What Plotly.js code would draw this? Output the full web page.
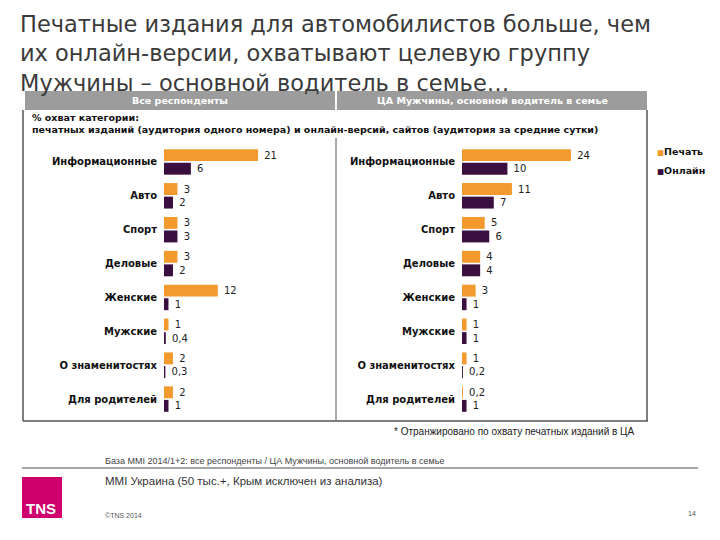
<!DOCTYPE html>
<html><head><meta charset="utf-8">
<script src="https://cdn.plot.ly/plotly-3.0.1.min.js"></script>
<style>html,body{margin:0;padding:0;background:#fff;overflow:hidden}#c{width:720px;height:540px}</style>
</head><body><div id="c"></div>
<script>
const categories = ["Информационные","Авто","Спорт","Деловые","Женские","Мужские","О знаменитостях","Для родителей"];
const allPrint  = [21, 3, 3, 3, 12, 1, 2, 2];
const allOnline = [6, 2, 3, 2, 1, 0.4, 0.3, 1];
const taPrint   = [24, 11, 5, 4, 3, 1, 1, 0.2];
const taOnline  = [10, 7, 6, 4, 1, 1, 0.2, 1];
const seriesNames = ["Печать","Онлайн"];
const colors = ["#F39A2E","#3B0E40"];
const titleLines = ["Печатные издания для автомобилистов больше, чем","их онлайн-версии, охватывают целевую группу","Мужчины – основной водитель в семье…"];

const W=720,H=540;
const px=x=>x/W, py=y=>1-y/H;
const FONT="DejaVu Sans, Verdana, sans-serif";
const NARROW="Liberation Sans Narrow, Arial Narrow, Liberation Sans, sans-serif";

function bar(x, name, color, xa, ya){
  return {type:"bar", orientation:"h", y:categories, x:x, name:name, xaxis:xa, yaxis:ya,
    marker:{color:color}, texttemplate:" %{x}", textposition:"outside", cliponaxis:false,
    constraintext:"none", textfont:{family:FONT,size:10,color:"#222"}, showlegend:false, hoverinfo:"x+y"};
}
const data=[
  bar(allPrint, seriesNames[0], colors[0], "x","y"),
  bar(allOnline, seriesNames[1], colors[1], "x","y"),
  bar(taPrint, seriesNames[0], colors[0], "x2","y2"),
  bar(taOnline, seriesNames[1], colors[1], "x2","y2")
];

const yTop=145, yBot=416;
const yax = {type:"category", range:[7.5,-0.5], domain:[py(yBot),py(yTop)], showgrid:false, zeroline:false, showline:false,
  ticks:"", ticklabelstandoff:6, tickfont:{family:FONT,size:10,color:"#111",weight:"bold"}, fixedrange:true};
const xax = {showgrid:false, zeroline:false, showline:false, showticklabels:false, ticks:"", fixedrange:true};

const shapes=[
  {type:"rect",xref:"paper",yref:"paper",x0:px(25),x1:px(335),y0:py(110),y1:py(91),fillcolor:"#9c9c9c",line:{width:0},layer:"below"},
  {type:"rect",xref:"paper",yref:"paper",x0:px(337),x1:px(647),y0:py(110),y1:py(91),fillcolor:"#9c9c9c",line:{width:0},layer:"below"},
  {type:"line",xref:"paper",yref:"paper",x0:px(23),x1:px(23),y0:py(110),y1:py(421),line:{color:"#555",width:1.5}},
  {type:"line",xref:"paper",yref:"paper",x0:px(23),x1:px(648),y0:py(421),y1:py(421),line:{color:"#555",width:1.5}},
  {type:"line",xref:"paper",yref:"paper",x0:px(647),x1:px(647),y0:py(110),y1:py(421),line:{color:"#555",width:1.5}},
  {type:"line",xref:"paper",yref:"paper",x0:px(336),x1:px(336),y0:py(100),y1:py(110),line:{color:"#eee",width:1}},
  {type:"line",xref:"paper",yref:"paper",x0:px(336),x1:px(336),y0:py(138),y1:py(421),line:{color:"#555",width:1}},
  {type:"line",xref:"paper",yref:"paper",x0:px(22),x1:px(698),y0:py(468),y1:py(468),line:{color:"#888",width:1.5}},
  {type:"rect",xref:"paper",yref:"paper",x0:px(22),x1:px(62),y0:py(518),y1:py(477),fillcolor:"#CF006E",line:{width:0}}
];

const ann=(x,y,text,size,opts)=>Object.assign({xref:"paper",yref:"paper",x:px(x),y:py(y),text:text,showarrow:false,
  xanchor:"left",yanchor:"middle",font:{family:FONT,size:size,color:"#222"}},opts||{});

const annotations=[
  ann(18,9,titleLines.join("<br>"),22.5,{yanchor:"top",align:"left",font:{family:FONT,size:22.5,color:"#3a3a3a"}}),
  ann(180,101,"Все респонденты",9.5,{xanchor:"center",font:{family:FONT,size:9.5,color:"#fff",weight:"bold"}}),
  ann(492,101,"ЦА Мужчины, основной водитель в семье",9.5,{xanchor:"center",font:{family:FONT,size:9.5,color:"#fff",weight:"bold"}}),
  ann(30,117,"% охват категории:",9.5,{font:{family:FONT,size:9.5,color:"#111",weight:"bold"}}),
  ann(30,129,"печатных изданий (аудитория одного номера) и онлайн-версий, сайтов (аудитория за средние сутки)",9.5,{font:{family:FONT,size:9.5,color:"#111",weight:"bold"}}),
  ann(655,152,"<span style='color:"+colors[0]+";font-size:7.5px'>■</span>"+seriesNames[0],9.5,{font:{family:FONT,size:9.5,color:"#111",weight:"bold"}}),
  ann(655,170,"<span style='color:"+colors[1]+";font-size:7.5px'>■</span>"+seriesNames[1],9.5,{font:{family:FONT,size:9.5,color:"#111",weight:"bold"}}),
  ann(392,431,"* Отранжировано по охвату печатных изданий в ЦА",10,{font:{family:NARROW,size:10,color:"#222"}}),
  ann(103,461,"База MMI 2014/1+2: все респонденты / ЦА Мужчины, основной водитель в семье",9,{font:{family:NARROW,size:9,color:"#444"}}),
  ann(103,481,"MMI Украина (50 тыс.+, Крым исключен из анализа)",11.5,{font:{family:NARROW,size:11.5,color:"#333"}}),
  ann(103,515,"©TNS 2014",7,{font:{family:NARROW,size:7,color:"#555"}}),
  ann(698,513,"14",7,{xanchor:"right",font:{family:NARROW,size:7,color:"#555"}}),
  ann(41,508,"TNS",15,{xanchor:"center",font:{family:NARROW,size:15,color:"#fff",weight:"bold"}})
];

const layout={
  width:W,height:H,margin:{l:0,r:0,t:0,b:0},paper_bgcolor:"#fff",plot_bgcolor:"rgba(0,0,0,0)",
  separators:", ",
  barmode:"group",bargap:0.2,bargroupgap:0.12,
  xaxis:Object.assign({domain:[px(164),px(330)],range:[0,166/4.48]},xax),
  xaxis2:Object.assign({domain:[px(462),px(640)],range:[0,178/4.54],anchor:"y2"},xax),
  yaxis:Object.assign({anchor:"x"},yax),
  yaxis2:Object.assign({anchor:"x2"},yax),
  showlegend:false,
  shapes:shapes,annotations:annotations
};
Plotly.newPlot("c",data,layout,{displayModeBar:false,staticPlot:true});
</script></body></html>
